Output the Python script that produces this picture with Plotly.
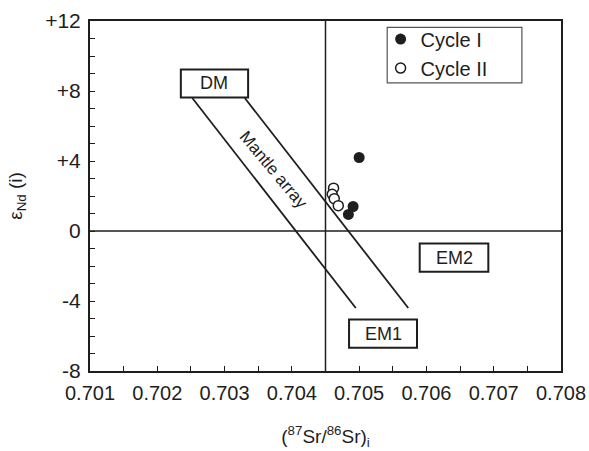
import plotly.graph_objects as go

# ---- data ----
cycle1_sr = [0.7050, 0.70491, 0.70484]
cycle1_nd = [4.2, 1.4, 0.95]
cycle2_sr = [0.70462, 0.70460, 0.70463, 0.70469]
cycle2_nd = [2.45, 2.1, 1.85, 1.45]

# mantle array boundary lines (x0, y0, x1, y1)
mantle_left = [0.70252, 7.6, 0.70495, -4.4]
mantle_right = [0.70330, 7.6, 0.70573, -4.4]

# reference lines
sr_bulk_earth = 0.7045
nd_chur = 0

# end-member labels
endmembers = ["DM", "EM1", "EM2"]
em_x0 = [0.70235, 0.70485, 0.70590]
em_x1 = [0.70335, 0.70586, 0.70692]
em_y0 = [7.63, -6.67, -2.33]
em_y1 = [9.23, -5.05, -0.71]

x_ticks = [0.701, 0.702, 0.703, 0.704, 0.705, 0.706, 0.707, 0.708]
x_ticklabels = ["0.701", "0.702", "0.703", "0.704", "0.705", "0.706", "0.707", "0.708"]
y_ticks = [12, 8, 4, 0, -4, -8]
y_ticklabels = ["+12", "+8", "+4", "0", "-4", "-8"]

FONT = "Liberation Sans, Arial, sans-serif"
INK = "#1e1e1e"

fig = go.Figure()
fig.add_trace(go.Scatter(
    x=cycle1_sr, y=cycle1_nd, mode="markers", name="Cycle I",
    marker=dict(symbol="circle", size=11, color=INK, line=dict(width=0))))
fig.add_trace(go.Scatter(
    x=cycle2_sr, y=cycle2_nd, mode="markers", name="Cycle II",
    marker=dict(symbol="circle", size=10, color="white", line=dict(width=1.5, color=INK))))

shapes = []
for ln in (mantle_left, mantle_right):
    shapes.append(dict(type="line", xref="x", yref="y", x0=ln[0], y0=ln[1], x1=ln[2], y1=ln[3],
                       line=dict(color=INK, width=1.8), layer="below"))
shapes.append(dict(type="line", xref="x", yref="paper", x0=sr_bulk_earth, x1=sr_bulk_earth, y0=0, y1=1,
                   line=dict(color=INK, width=1.5), layer="below"))
shapes.append(dict(type="line", xref="paper", yref="y", x0=0, x1=1, y0=nd_chur, y1=nd_chur,
                   line=dict(color=INK, width=1.5), layer="below"))
# legend frame
shapes.append(dict(type="rect", xref="paper", yref="paper", x0=0.631, x1=0.917, y0=0.823, y1=0.982,
                   fillcolor="rgba(0,0,0,0)", line=dict(color="#555555", width=1.2), layer="above"))

annotations = []
for name, a, b, c, d in zip(endmembers, em_x0, em_x1, em_y0, em_y1):
    shapes.append(dict(type="rect", xref="x", yref="y", x0=a, x1=b, y0=c, y1=d,
                       fillcolor="white", line=dict(color=INK, width=2), layer="above"))
    annotations.append(dict(x=(a + b) / 2, y=(c + d) / 2, xref="x", yref="y", text=name,
                            showarrow=False, font=dict(family=FONT, size=18, color=INK)))

annotations.append(dict(x=0.70372, y=3.5, xref="x", yref="y", text="Mantle array",
                        showarrow=False, textangle=50,
                        font=dict(family=FONT, size=17, color=INK)))

fig.update_layout(
    width=589, height=451,
    margin=dict(l=90, r=28, t=21, b=80),
    paper_bgcolor="white", plot_bgcolor="white",
    font=dict(family=FONT, size=19, color=INK),
    showlegend=True,
    legend=dict(x=0.617, y=1.004, xanchor="left", yanchor="top",
                borderwidth=0, bgcolor="rgba(0,0,0,0)",
                font=dict(family=FONT, size=20, color=INK),
                itemwidth=30, tracegroupgap=0),
    shapes=shapes, annotations=annotations,
)
fig.update_xaxes(
    range=[0.701, 0.708], tickvals=x_ticks, ticktext=x_ticklabels, automargin=False,
    showline=True, linecolor=INK, linewidth=2, mirror=True,
    ticks="inside", ticklen=5, tickwidth=1.2, tickcolor=INK,
    minor=dict(dtick=0.0005, ticks="inside", ticklen=5, tickwidth=1.2, tickcolor=INK, tick0=0.701),
    showgrid=False, zeroline=False, ticklabelstandoff=3,
    tickfont=dict(family=FONT, size=20, color=INK),
    title=dict(text="(<sup>87</sup>Sr/<sup>86</sup>Sr)<sub>i</sub>", font=dict(family=FONT, size=19, color=INK), standoff=27),
)
fig.update_yaxes(
    range=[-8, 12], tickvals=y_ticks, ticktext=y_ticklabels, automargin=False,
    showline=True, linecolor=INK, linewidth=2, mirror=True,
    ticks="inside", ticklen=5, tickwidth=1.2, tickcolor=INK,
    minor=dict(dtick=1, ticks="inside", ticklen=5, tickwidth=1.2, tickcolor=INK, tick0=0),
    showgrid=False, zeroline=False, ticklabelstandoff=3,
    tickfont=dict(family=FONT, size=21, color=INK),
    title=dict(text="ε<sub>Nd</sub> (i)", font=dict(family=FONT, size=19, color=INK), standoff=18),
)

fig.write_html("out.html", config={"displayModeBar": False},
               post_script="document.body.style.margin='0';")
